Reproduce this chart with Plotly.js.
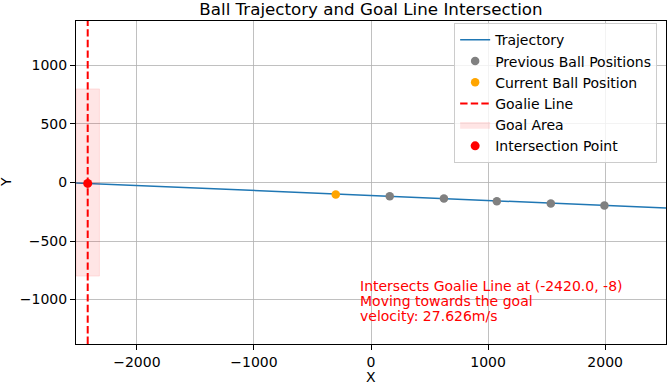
<!DOCTYPE html>
<html>
<head>
<meta charset="utf-8">
<script src="https://cdn.plot.ly/plotly-3.0.1.min.js"></script>
<style>
  html, body { margin: 0; padding: 0; background: #fff; }
  #chart { width: 668px; height: 384px; }
</style>
</head>
<body>
<div id="chart"></div>
<script>
// trajectory fitted through the ball positions
const trajX = [-2520, 2520];
const trajY = [-3.7, -218];

const prevX = [160, 623, 1075, 1536, 1994];
const prevY = [-117, -137, -160, -180, -197];

const currX = [-301];
const currY = [-103];

const goalieX = -2420;
const xLimits = [-2520, 2520];
const yLimits = [-1380, 1380];

const goalAreaX = [-2520, -2320];
const goalAreaY = [-800, 800];

const hitX = [-2420];
const hitY = [-8];

const infoLines = [
  'Intersects Goalie Line at (-2420.0, -8)',
  'Moving towards the goal',
  'velocity: 27.626m/s',
];

const FONT = 'DejaVu Sans, sans-serif';

const traces = [
  {
    x: trajX, y: trajY,
    mode: 'lines', type: 'scatter', name: 'Trajectory',
    line: { color: '#1f77b4', width: 1.5 },
  },
  {
    x: prevX, y: prevY,
    mode: 'markers', type: 'scatter', name: 'Previous Ball Positions',
    marker: { color: '#808080', size: 8.5 },
  },
  {
    x: currX, y: currY,
    mode: 'markers', type: 'scatter', name: 'Current Ball Position',
    marker: { color: '#ffa500', size: 8.5 },
  },
  {
    x: [goalieX, goalieX], y: yLimits,
    mode: 'lines', type: 'scatter', name: 'Goalie Line',
    line: { color: '#ff0000', width: 2, dash: '7.4px,3.2px' },
  },
  {
    x: [goalAreaX[0], goalAreaX[1], goalAreaX[1], goalAreaX[0], goalAreaX[0]],
    y: [goalAreaY[0], goalAreaY[0], goalAreaY[1], goalAreaY[1], goalAreaY[0]],
    mode: 'lines', type: 'scatter', name: 'Goal Area',
    fill: 'toself', fillcolor: 'rgba(255,0,0,0.1)',
    line: { color: 'rgba(255,0,0,0.1)', width: 1 },
  },
  {
    x: hitX, y: hitY,
    mode: 'markers', type: 'scatter', name: 'Intersection Point',
    marker: { color: '#ff0000', size: 9 },
  },
];

const axisCommon = {
  ticks: 'outside',
  ticklen: 5,
  tickwidth: 1,
  tickcolor: '#000',
  showgrid: true,
  gridcolor: '#b0b0b0',
  gridwidth: 0.8,
  zeroline: false,
  showline: true,
  mirror: true,
  linecolor: '#000',
  linewidth: 1,
  tickfont: { family: FONT, size: 14, color: '#000' },
};

const annotations = infoLines.map((t, i) => ({
  text: t,
  xref: 'x', x: -110, xanchor: 'left',
  yref: 'paper', y: 0.1805, yanchor: 'middle',
  yshift: -i * 15.3,
  showarrow: false,
  align: 'left',
  font: { family: FONT, size: 14, color: '#ff0000' },
}));

// axis labels, placed like the matplotlib ones
annotations.push({
  text: 'X', showarrow: false,
  xref: 'paper', x: 0.5, xanchor: 'center',
  yref: 'paper', y: 0, yanchor: 'middle', yshift: -33,
  font: { family: FONT, size: 14, color: '#000' },
});
annotations.push({
  text: 'Y', showarrow: false, textangle: -90,
  xref: 'paper', x: 0, xanchor: 'center', xshift: -70.5,
  yref: 'paper', y: 0.5, yanchor: 'middle',
  font: { family: FONT, size: 14, color: '#000' },
});

const layout = {
  width: 668,
  height: 384,
  margin: { l: 76, r: 2, t: 21, b: 40, pad: 0 },
  paper_bgcolor: '#fff',
  plot_bgcolor: '#fff',
  font: { family: FONT, size: 14, color: '#000' },
  showlegend: true,
  title: {
    text: 'Ball Trajectory and Goal Line Intersection',
    font: { family: FONT, size: 16.7, color: '#000' },
    x: 0.5, xref: 'paper',
    y: 1, yref: 'paper', yanchor: 'bottom',
    pad: { b: 6 },
  },
  xaxis: Object.assign({}, axisCommon, {
    range: xLimits,
    tick0: 0, dtick: 1000,
  }),
  yaxis: Object.assign({}, axisCommon, {
    range: yLimits,
    tick0: 0, dtick: 500,
  }),
  legend: {
    x: 0.985, xanchor: 'right',
    y: 0.993, yanchor: 'top',
    bgcolor: 'rgba(255,255,255,0.8)',
    bordercolor: '#cccccc',
    borderwidth: 1,
    font: { family: FONT, size: 14, color: '#000' },
  },
  annotations,
};

Plotly.newPlot('chart', traces, layout, { displayModeBar: false, staticPlot: true });
</script>
</body>
</html>
